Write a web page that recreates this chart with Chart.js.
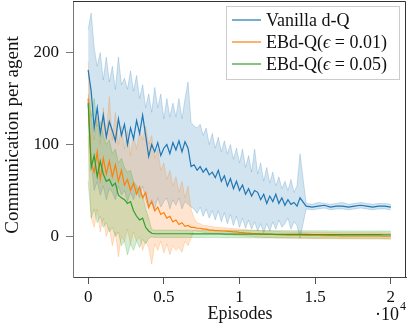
<!DOCTYPE html>
<html>
<head>
<meta charset="utf-8">
<script src="https://cdn.jsdelivr.net/npm/chart.js@4.4.1/dist/chart.umd.min.js"></script>
<style>
  html, body { margin: 0; padding: 0; background: #fff; }
  #chart { display: block; }
</style>
</head>
<body>
<canvas id="chart" width="407" height="330"></canvas>
<script>
// Episodes (x values), shared by all series
const episodes = [
    0, 200, 400, 600, 800, 1000, 1200, 1400, 1600, 1800,
    2000, 2200, 2400, 2600, 2800, 3000, 3200, 3400, 3600, 3800,
    4000, 4200, 4400, 4600, 4800, 5000, 5200, 5400, 5600, 5800,
    6000, 6200, 6400, 6600, 6800, 7000, 7200, 7400, 7600, 7800,
    8000, 8200, 8400, 8600, 8800, 9000, 9200, 9400, 9600, 9800,
    10000, 10200, 10400, 10600, 10800, 11000, 11200, 11400, 11600, 11800,
    12000, 12200, 12400, 12600, 12800, 13000, 13200, 13400, 13600, 13800,
    14000, 14400, 14800, 15200, 15600, 16000, 16400, 16800, 17200, 17600,
    18000, 18400, 18800, 19200, 19600, 20000
];

// Vanilla d-Q
const vanillaMean = [
    181, 158, 118, 140, 112, 132, 108, 125, 115, 104,
    128, 110, 122, 100, 118, 106, 126, 112, 132, 110,
    87, 100, 92, 102, 88, 96, 100, 90, 102, 94,
    104, 92, 103, 96, 76, 78, 72, 76, 70, 74,
    67, 70, 64, 72, 60, 66, 55, 63, 52, 60,
    50, 56, 46, 52, 44, 50, 48, 40, 46, 36,
    44, 38, 46, 36, 42, 34, 40, 35, 37, 33,
    42, 33, 32, 33, 34, 32, 33, 33, 32, 33,
    34, 33, 32, 33, 33, 32
];
const vanillaHigh = [
    225, 243, 205, 185, 200, 170, 195, 168, 185, 160,
    195, 165, 172, 160, 180, 158, 175, 150, 165, 140,
    155, 135, 162, 140, 155, 128, 150, 130, 145, 130,
    150, 128, 150, 168, 124, 120, 118, 122, 110, 118,
    100, 112, 96, 108, 92, 104, 90, 100, 84, 96,
    80, 95, 75, 88, 70, 95, 68, 80, 60, 75,
    58, 70, 55, 65, 52, 60, 50, 62, 48, 55,
    90, 36, 35, 37, 36, 35, 36, 37, 35, 36,
    37, 36, 35, 36, 36, 35
];
const vanillaLow = [
    135, 80, 50, 60, 45, 55, 40, 52, 48, 40,
    55, 45, 50, 38, 48, 40, 52, 42, 55, 40,
    30, 40, 30, 42, 32, 38, 42, 30, 40, 34,
    42, 30, 38, 35, 32, 30, 25, 32, 22, 30,
    20, 28, 18, 28, 16, 26, 14, 24, 12, 22,
    10, 20, 9, 18, 8, 16, 6, 14, 4, 14,
    6, 16, 8, 18, 10, 14, 20, 8, 16, 12,
    -2, 30, 29, 30, 31, 29, 30, 30, 29, 30,
    31, 30, 29, 30, 30, 29
];

// EBd-Q (eps = 0.01)
const eps01Mean = [
    150, 80, 70, 92, 62, 85, 68, 82, 65, 78,
    60, 72, 56, 62, 50, 58, 46, 54, 42, 48,
    32, 38, 28, 32, 24, 26, 20, 22, 16, 18,
    13, 15, 11, 12, 10, 10, 9, 9, 8, 8,
    7, 7, 6.5, 6.5, 6, 6, 5.5, 5.5, 5, 5,
    4.5, 4.3, 4, 3.8, 3.5, 3.3, 3, 2.8, 2.6, 2.4,
    2.3, 2.2, 2, 1.9, 1.8, 1.7, 1.6, 1.55, 1.5, 1.45,
    1.4, 1.3, 1.2, 1.1, 1, 0.9, 0.9, 0.8, 0.8, 0.7,
    0.7, 0.6, 0.6, 0.6, 0.5, 0.5
];
const eps01High = [
    190, 130, 105, 130, 100, 140, 110, 152, 105, 135,
    100, 120, 95, 115, 88, 110, 95, 115, 105, 120,
    100, 110, 85, 95, 72, 80, 62, 72, 55, 65,
    48, 60, 42, 55, 30, 20, 15, 14, 12, 12,
    11, 11, 10, 10, 9.5, 9.5, 9, 9, 8.5, 8.5,
    8, 7.8, 7.5, 7.3, 7, 6.8, 6.5, 6.3, 6.1, 5.9,
    5.8, 5.7, 5.5, 5.4, 5.3, 5.2, 5.1, 5, 4.9, 4.9,
    4.8, 4.7, 4.6, 4.5, 4.4, 4.3, 4.3, 4.2, 4.2, 4.1,
    4.1, 4, 4, 4, 3.9, 3.9
];
const eps01Low = [
    110, 20, 10, 30, 5, 20, 0, 10, -10, 5,
    -22, 0, -5, 8, -8, 5, -5, 0, -15, -5,
    -12, -30, -8, -15, -5, -18, -8, -20, -10, -15,
    -12, -17, -5, -10, -2, 6.5, 5.5, 5.5, 4.5, 4.5,
    3.5, 3.5, 3, 3, 2.5, 2.5, 2, 2, 1.5, 1.5,
    1, 0.8, 0.5, 0.3, 0, -0.2, -0.4, -0.6, -0.8, -1,
    -1.1, -1.2, -1.4, -1.5, -1.6, -1.7, -1.8, -1.9, -2, -2,
    -2.1, -2.1, -2.2, -2.3, -2.4, -2.5, -2.5, -2.6, -2.6, -2.7,
    -2.7, -2.8, -2.8, -2.8, -2.9, -2.9
];

// EBd-Q (eps = 0.05)
const eps05Mean = [
    145, 75, 88, 65, 82, 68, 60, 62, 55, 58,
    45, 42, 40, 36, 38, 28, 22, 18, 20, 10,
    6, 3.5, 3, 3, 3, 3, 3, 3, 3, 3,
    3, 3, 3, 3, 2.9, 2.9, 2.9, 2.9, 2.9, 2.8,
    2.8, 2.8, 2.8, 2.8, 2.8, 2.7, 2.7, 2.7, 2.7, 2.7,
    2.6, 2.6, 2.6, 2.6, 2.6, 2.6, 2.5, 2.5, 2.5, 2.5,
    2.5, 2.5, 2.4, 2.4, 2.4, 2.4, 2.4, 2.4, 2.3, 2.3,
    2.3, 2.3, 2.2, 2.2, 2.2, 2.1, 2.1, 2.1, 2.1, 2,
    2, 2, 2, 2, 1.9, 1.9
];
const eps05High = [
    155, 130, 150, 120, 125, 110, 100, 105, 90, 95,
    80, 85, 75, 70, 72, 60, 55, 50, 45, 30,
    20, 7.5, 7, 7, 7, 7, 7, 7, 7, 7,
    7, 7, 7, 7, 6.9, 6.9, 6.9, 6.9, 6.9, 6.8,
    6.8, 6.8, 6.8, 6.8, 6.8, 6.7, 6.7, 6.7, 6.7, 6.7,
    6.6, 6.6, 6.6, 6.6, 6.6, 6.6, 6.5, 6.5, 6.5, 6.5,
    6.5, 6.5, 6.4, 6.4, 6.4, 6.4, 6.4, 6.4, 6.3, 6.3,
    6.3, 6.3, 6.2, 6.2, 6.2, 6.1, 6.1, 6.1, 6.1, 6,
    6, 6, 6, 6, 5.9, 5.9
];
const eps05Low = [
    60, 20, 30, 15, 22, 10, 15, 5, 10, 0,
    5, -10, -5, -20, -8, -15, -5, -12, -3, -8,
    -2, -0.5, -1, -1, -1, -1, -1, -1, -1, -1,
    -1, -1, -1, -1, -1.1, -1.1, -1.1, -1.1, -1.1, -1.2,
    -1.2, -1.2, -1.2, -1.2, -1.2, -1.3, -1.3, -1.3, -1.3, -1.3,
    -1.4, -1.4, -1.4, -1.4, -1.4, -1.4, -1.5, -1.5, -1.5, -1.5,
    -1.5, -1.5, -1.6, -1.6, -1.6, -1.6, -1.6, -1.6, -1.7, -1.7,
    -1.7, -1.7, -1.8, -1.8, -1.8, -1.9, -1.9, -1.9, -1.9, -2,
    -2, -2, -2, -2, -2.1, -2.1
];

const seriesLabels = ['Vanilla d-Q', 'EBd-Q(\u03F5 = 0.01)', 'EBd-Q(\u03F5 = 0.05)'];
const xTickValues = [0, 5000, 10000, 15000, 20000];
const xTickLabels = ['0', '0.5', '1', '1.5', '2'];
const yTickValues = [0, 100, 200];

// Colours (matplotlib tab10)
const colors = [
    [31, 119, 180],
    [255, 127, 14],
    [44, 160, 44]
];
const rgba = (c, a) => `rgba(${c[0]}, ${c[1]}, ${c[2]}, ${a})`;

const SERIF = '"Liberation Serif", "DejaVu Serif", serif';

const toPoints = (ys) => episodes.map((x, i) => ({ x: x, y: ys[i] }));

const series = [
    { mean: vanillaMean, low: vanillaLow, high: vanillaHigh },
    { mean: eps01Mean, low: eps01Low, high: eps01High },
    { mean: eps05Mean, low: eps05Low, high: eps05High }
];

// Build datasets: for each series a low edge, a high edge filled to the low, then the mean line
const datasets = [];
series.forEach((s, i) => {
    const c = colors[i];
    const bandOrder = 6 - i;
    datasets.push({
        label: seriesLabels[i] + ' low',
        data: toPoints(s.low),
        borderColor: rgba(c, 0.28),
        borderWidth: 0.8,
        pointRadius: 0,
        fill: false,
        order: bandOrder
    });
    datasets.push({
        label: seriesLabels[i] + ' high',
        data: toPoints(s.high),
        borderColor: rgba(c, 0.28),
        borderWidth: 0.8,
        backgroundColor: rgba(c, 0.2),
        pointRadius: 0,
        fill: '-1',
        order: bandOrder
    });
});
series.forEach((s, i) => {
    datasets.push({
        label: seriesLabels[i],
        data: toPoints(s.mean),
        borderColor: rgba(colors[i], 1),
        borderWidth: 1.2,
        pointRadius: 0,
        fill: false,
        order: 3 - i
    });
});

// Frame, axis titles, exponent and legend
const decorPlugin = {
    id: 'decor',
    afterDraw(chart) {
        const ctx = chart.ctx;
        const area = chart.chartArea;
        ctx.save();

        // top and right sides of the box
        ctx.strokeStyle = '#333';
        ctx.lineWidth = 1;
        ctx.beginPath();
        ctx.moveTo(area.left, area.top + 0.5);
        ctx.lineTo(area.right - 0.5, area.top + 0.5);
        ctx.lineTo(area.right - 0.5, area.bottom);
        ctx.stroke();

        ctx.fillStyle = '#111';

        // y axis title
        ctx.save();
        ctx.translate(13, 135);
        ctx.rotate(-Math.PI / 2);
        ctx.font = '19px ' + SERIF;
        ctx.textAlign = 'center';
        ctx.textBaseline = 'middle';
        ctx.fillText('Communication per agent', 0, 0);
        ctx.restore();

        // x axis title
        ctx.font = '18px ' + SERIF;
        ctx.textAlign = 'center';
        ctx.textBaseline = 'alphabetic';
        ctx.fillText('Episodes', 240, 319);

        // exponent
        ctx.textAlign = 'right';
        ctx.fillText('\u00B710', 399, 320);
        ctx.font = '12px ' + SERIF;
        ctx.textAlign = 'left';
        ctx.fillText('4', 400, 310);

        // legend
        const box = { x: 226.5, y: 6.5, w: 173, h: 73 };
        ctx.fillStyle = 'rgba(255, 255, 255, 0.8)';
        ctx.fillRect(box.x, box.y, box.w, box.h);
        ctx.strokeStyle = '#cccccc';
        ctx.lineWidth = 1;
        ctx.strokeRect(box.x, box.y, box.w, box.h);

        const rowY = [20, 42, 64];
        seriesLabels.forEach((label, i) => {
            const y = rowY[i];
            ctx.strokeStyle = rgba(colors[i], 0.8);
            ctx.lineWidth = 1.5;
            ctx.beginPath();
            ctx.moveTo(232, y);
            ctx.lineTo(261, y);
            ctx.stroke();

            // draw text with the epsilon in italics
            ctx.fillStyle = '#111';
            ctx.textAlign = 'left';
            ctx.textBaseline = 'middle';
            let x = 266;
            const parts = label.split('\u03F5');
            parts.forEach((part, k) => {
                ctx.font = '18px ' + SERIF;
                ctx.fillText(part, x, y + 1);
                x += ctx.measureText(part).width;
                if (k < parts.length - 1) {
                    ctx.font = 'italic 18px ' + SERIF;
                    ctx.fillText('\u03F5', x, y + 1);
                    x += ctx.measureText('\u03F5').width;
                }
            });
        });

        ctx.restore();
    }
};

const config = {
    type: 'line',
    data: { datasets: datasets },
    options: {
        responsive: false,
        animation: false,
        devicePixelRatio: 1,
        layout: { padding: { top: 1, right: 1, left: 0, bottom: 0 } },
        plugins: {
            legend: { display: false },
            tooltip: { enabled: false },
            title: { display: false }
        },
        elements: { line: { tension: 0 } },
        scales: {
            x: {
                type: 'linear',
                min: -1000,
                max: 21000,
                afterBuildTicks: (scale) => {
                    scale.ticks = xTickValues.map(v => ({ value: v }));
                },
                afterFit: (scale) => {
                    scale.height = 53;
                    scale.paddingLeft = 0;
                    scale.paddingRight = 0;
                },
                ticks: {
                    callback: (value, index) => xTickLabels[index],
                    font: { family: SERIF, size: 17 },
                    color: '#111',
                    padding: 3,
                    maxRotation: 0
                },
                grid: { drawOnChartArea: false, drawTicks: true, tickLength: 7, color: '#555' },
                border: { display: true, color: '#444' }
            },
            y: {
                type: 'linear',
                min: -44,
                max: 256,
                afterBuildTicks: (scale) => {
                    scale.ticks = yTickValues.map(v => ({ value: v }));
                },
                afterFit: (scale) => {
                    scale.width = 73;
                    scale.paddingTop = 0;
                    scale.paddingBottom = 0;
                },
                ticks: {
                    font: { family: SERIF, size: 17 },
                    color: '#111',
                    padding: 7
                },
                grid: { drawOnChartArea: false, drawTicks: true, tickLength: 7, color: '#777' },
                border: { display: true, color: '#777' }
            }
        }
    },
    plugins: [decorPlugin]
};

new Chart(document.getElementById('chart'), config);
</script>
</body>
</html>
